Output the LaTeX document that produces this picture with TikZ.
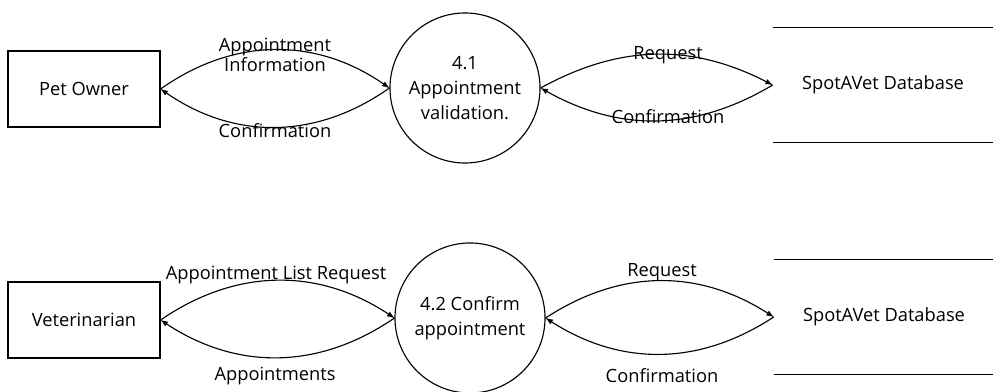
\documentclass[tikz,border=0pt]{standalone}
\usepackage{fontspec}
\setmainfont{Open Sans}
\usetikzlibrary{arrows, positioning}

\tikzset{
    entity/.style={rectangle,draw,line width=0.8pt,minimum width=3.8cm,minimum height=1.9cm,font=\fontsize{13}{15}\selectfont},
    process/.style={circle,draw,line width=0.8pt,minimum size=3.75cm,inner sep=0pt,align=center,font=\fontsize{13}{18}\selectfont},
    store/.style={rectangle,minimum width=5.5cm,minimum height=2.875cm,font=\fontsize{13}{15}\selectfont},
    flow/.style={-latex,line width=0.8pt},
    flowlabel/.style={align=center,inner sep=0pt,font=\fontsize{13}{14.5}\selectfont}
}

\begin{document}
\begin{tikzpicture}[x=0.025cm,y=-0.025cm]
    \useasboundingbox (0,0) rectangle (993,392);

    % Appointment validation
    \node[entity] (owner) at (84,89) {Pet Owner};
    \node[process] (valid) at (465,88) {4.1\\Appointment\\validation.};
    \node[store] (db1) at (883,85) {SpotAVet Database};
    \draw[line width=0.8pt] (db1.north west) -- (db1.north east);
    \draw[line width=0.8pt] (db1.south west) -- (db1.south east);

    \draw[flow] (owner.east) to[bend left=35] (valid.west);
    \draw[flow] (valid.west) to[bend left=35] (owner.east);
    \draw[flow] (valid.east) to[bend left=28] (db1.west);
    \draw[flow] (db1.west) to[bend left=30] (valid.east);

    \node[flowlabel] (info) at (275,55) {Appointment\\Information};
    \node[flowlabel] (conf1) at (275,131) {Confirmation};
    \node[flowlabel] (req1) at (668,55) {Request};
    \node[flowlabel] (conf2) at (668,117) {Confirmation};

    % Confirm appointment
    \node[entity] (vet) at (84,320) {Veterinarian};
    \node[process] (confirm) at (470,318) {4.2 Confirm\\appointment};
    \node[store] (db2) at (884,317) {SpotAVet Database};
    \draw[line width=0.8pt] (db2.north west) -- (db2.north east);
    \draw[line width=0.8pt] (db2.south west) -- (db2.south east);

    \draw[flow] (vet.east) to[bend left=34] (confirm.west);
    \draw[flow] (confirm.west) to[bend left=34] (vet.east);
    \draw[flow] (confirm.east) to[bend left=33] (db2.west);
    \draw[flow] (db2.west) to[bend left=33] (confirm.east);

    \node[flowlabel] (listreq) at (276,275) {Appointment List Request};
    \node[flowlabel] (appts) at (275,376) {Appointments};
    \node[flowlabel] (req2) at (662,272) {Request};
    \node[flowlabel] (conf3) at (662,376) {Confirmation};
\end{tikzpicture}
\end{document}
